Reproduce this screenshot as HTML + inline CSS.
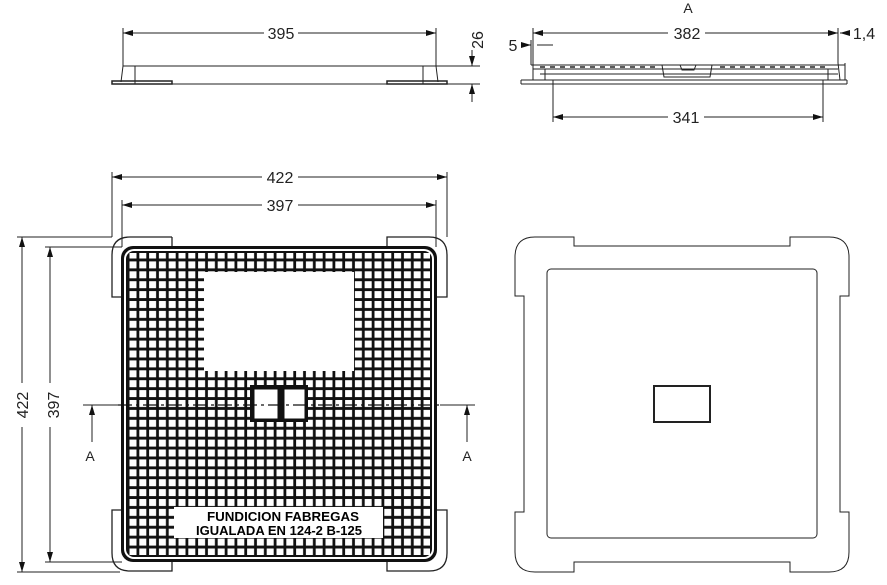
<!DOCTYPE html>
<html><head><meta charset="utf-8"><style>
html,body{margin:0;padding:0;background:#fff;}
svg{display:block;}
text{font-family:"Liberation Sans",Arial,sans-serif;fill:#222;}
</style></head><body>
<svg width="887" height="585" viewBox="0 0 887 585" xmlns="http://www.w3.org/2000/svg">
<defs>
<marker id="ar" viewBox="0 0 10 6" refX="10" refY="3" markerWidth="10" markerHeight="6" orient="auto-start-reverse" markerUnits="userSpaceOnUse"><path d="M0,0 L10,3 L0,6z" fill="#111"/></marker>
<pattern id="g" x="128" y="250" width="9.8" height="9.9" patternUnits="userSpaceOnUse"><rect x="1.5" y="1.5" width="7" height="7" fill="#fff"/></pattern>
</defs>
<g stroke="#222" stroke-width="1" fill="none">
<line x1="123" y1="28" x2="123" y2="66"/><line x1="436" y1="28" x2="436" y2="66"/>
<line x1="123" y1="33" x2="264" y2="33" marker-start="url(#ar)"/><line x1="298" y1="33" x2="436" y2="33" marker-end="url(#ar)"/>
<line x1="123" y1="66" x2="480" y2="66"/>
<line x1="112" y1="84" x2="480" y2="84"/>
<line x1="123" y1="66" x2="121" y2="82"/><line x1="135" y1="66" x2="135" y2="84"/>
<line x1="436" y1="66" x2="438" y2="82"/><line x1="423" y1="66" x2="423" y2="84"/>
<rect x="112" y="81" width="60" height="3" stroke-width="1.5"/>
<rect x="387" y="81" width="60" height="3" stroke-width="1.5"/>
<line x1="472" y1="50" x2="472" y2="66" marker-end="url(#ar)"/>
<line x1="472" y1="102" x2="472" y2="84" marker-end="url(#ar)"/>
<line x1="533" y1="28" x2="533" y2="63"/><line x1="838" y1="28" x2="838" y2="63"/>
<line x1="533" y1="33" x2="668" y2="33" marker-start="url(#ar)"/><line x1="705" y1="33" x2="838" y2="33" marker-end="url(#ar)"/>
<line x1="850" y1="33" x2="840" y2="33" marker-end="url(#ar)"/>
<line x1="521" y1="45" x2="531" y2="45" marker-end="url(#ar)"/><line x1="537" y1="45" x2="553" y2="45"/>
<line x1="531" y1="40" x2="531" y2="65"/>
<path d="M531,65 L845,65 M533,69 L838,69 M540,74 L838,74 M521,80 L847,80 M521,84 L847,84 M521,80 L521,84 M847,80 L847,84 M533,63 L533,80 M845,63 L845,80 M838,63 L840,80 M545,69 L545,80 M828,69 L828,80 M662,65 L664,77 L710,77 L712,65 M680,65 L682,70 L694,70 L696,65"/>
<path d="M540,67 L545,67 M550,67 L555,67 M560,67 L565,67 M570,67 L575,67 M580,67 L585,67 M590,67 L595,67 M600,67 L605,67 M610,67 L615,67 M620,67 L625,67 M630,67 L635,67 M640,67 L645,67 M650,67 L655,67 M720,67 L725,67 M730,67 L735,67 M740,67 L745,67 M750,67 L755,67 M760,67 L765,67 M770,67 L775,67 M780,67 L785,67 M790,67 L795,67 M800,67 L805,67 M810,67 L815,67 M820,67 L825,67" stroke-width="1.5"/>
<line x1="553" y1="80" x2="553" y2="122"/><line x1="823" y1="80" x2="823" y2="122"/>
<line x1="553" y1="117" x2="668" y2="117" marker-start="url(#ar)"/><line x1="704" y1="117" x2="823" y2="117" marker-end="url(#ar)"/>
<line x1="112" y1="172" x2="112" y2="237"/><line x1="447" y1="172" x2="447" y2="237"/>
<line x1="112" y1="177" x2="262" y2="177" marker-start="url(#ar)"/><line x1="298" y1="177" x2="447" y2="177" marker-end="url(#ar)"/>
<line x1="122" y1="200" x2="122" y2="247"/><line x1="436" y1="200" x2="436" y2="247"/>
<line x1="122" y1="205" x2="262" y2="205" marker-start="url(#ar)"/><line x1="298" y1="205" x2="436" y2="205" marker-end="url(#ar)"/>
<line x1="17" y1="237" x2="112" y2="237"/><line x1="17" y1="572" x2="120" y2="572"/>
<line x1="45" y1="247" x2="122" y2="247"/><line x1="45" y1="562" x2="122" y2="562"/>
<line x1="22" y1="237" x2="22" y2="383" marker-start="url(#ar)"/><line x1="22" y1="427" x2="22" y2="572" marker-end="url(#ar)"/>
<line x1="50" y1="247" x2="50" y2="383" marker-start="url(#ar)"/><line x1="50" y1="427" x2="50" y2="562" marker-end="url(#ar)"/>
<line x1="83" y1="405" x2="118" y2="405"/><line x1="440" y1="405" x2="475" y2="405"/>
<line x1="92" y1="442" x2="92" y2="405" marker-end="url(#ar)"/>
<line x1="467" y1="442" x2="467" y2="405" marker-end="url(#ar)"/>
<path d="M172,237 L130,237 Q112,237 112,255 L112,297 L121,297 M121,510 L112,510 L112,553 Q112,571 130,571 L172,571 L172,562 M387,562 L387,571 L429,571 Q447,571 447,553 L447,510 L437,510 M437,297 L447,297 L447,255 Q447,237 429,237 L387,237 L387,246 M172,237 L172,246" stroke-width="1.3"/>
<path d="M574,246 L574,237 L535,237 Q515,237 515,257 L515,296 L524,296 L524,512 L515,512 L515,552 Q515,572 535,572 L574,572 L574,562 L790,562 L790,572 L829,572 Q849,572 849,552 L849,512 L840,512 L840,296 L849,296 L849,257 Q849,237 829,237 L790,237 L790,246 Z"/>
<rect x="547" y="269" width="270" height="269" rx="4"/>
<rect x="654" y="386" width="56" height="36" stroke-width="2"/>
</g>
<rect x="121" y="246" width="316" height="316" rx="12" fill="#111"/>
<rect x="124" y="249" width="310" height="310" rx="10" fill="#fff"/>
<rect x="126" y="251" width="306" height="306" rx="8" fill="#111"/>
<rect x="128" y="253" width="302" height="302" fill="url(#g)"/>
<rect x="204" y="272" width="150" height="99" fill="#fff"/>
<rect x="174" y="507" width="209" height="31" fill="#fff"/>
<rect x="250" y="385" width="58" height="37" fill="#111"/>
<rect x="254" y="389" width="24" height="30" fill="#fff" stroke="#111"/>
<rect x="284" y="389" width="21" height="30" fill="#fff" stroke="#111"/>
<line x1="118" y1="405" x2="440" y2="405" stroke="#111" stroke-width="1.2" stroke-dasharray="14,4,3,4"/>
<g font-size="16" text-anchor="middle">
<text x="281" y="39">395</text>
<text x="479" y="40" transform="rotate(-90 479 40)" dominant-baseline="middle">26</text>
<text x="688" y="13" font-size="14">A</text>
<text x="687" y="39">382</text>
<text x="864" y="39">1,4</text>
<text x="513" y="51">5</text>
<text x="686" y="123">341</text>
<text x="280" y="183">422</text>
<text x="280" y="211">397</text>
<text x="24" y="405" transform="rotate(-90 24 405)" dominant-baseline="middle">422</text>
<text x="55" y="405" transform="rotate(-90 55 405)" dominant-baseline="middle">397</text>
<text x="90" y="461" font-size="14">A</text>
<text x="467" y="461" font-size="14">A</text>
</g>
<g font-size="13" font-weight="bold" text-anchor="middle">
<text x="283" y="521" textLength="152" lengthAdjust="spacingAndGlyphs" style="fill:#000">FUNDICION FABREGAS</text>
<text x="279" y="535" textLength="166" lengthAdjust="spacingAndGlyphs" style="fill:#000">IGUALADA EN 124-2  B-125</text>
</g>
</svg>
</body></html>
